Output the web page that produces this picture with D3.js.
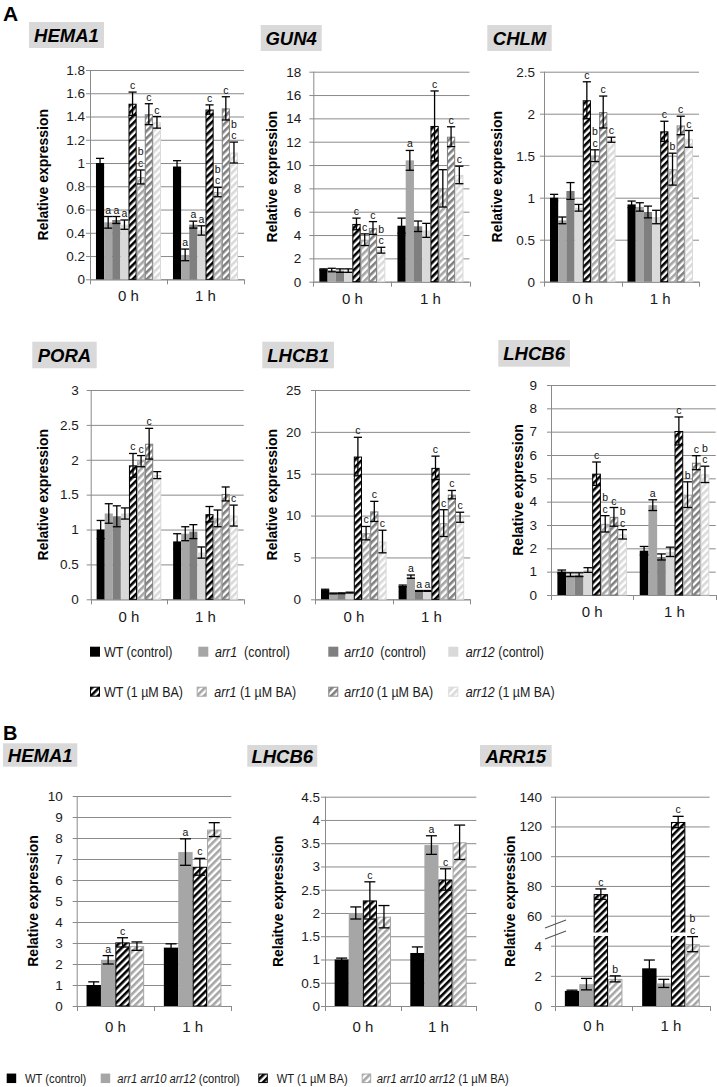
<!DOCTYPE html>
<html><head><meta charset="utf-8">
<script src="https://cdn.jsdelivr.net/npm/d3@7"></script>
<style>
html,body{margin:0;padding:0;background:#fff;}
svg{display:block;font-family:Arial,"Liberation Sans",sans-serif;}
text{white-space:pre;}
</style></head><body>
<svg id="fig" width="717" height="1087"></svg>
<script>
// ---------------- DATA ----------------
const hours = ["0 h", "1 h"];
const genotypesA = ["WT", "arr1", "arr10", "arr12"];
const genotypesB = ["WT", "arr1 arr10 arr12"];
const treatments = ["(control)", "(1 µM BA)"];
const legendGapA = [" ", "  ", "  ", " "];

// Panel A: series order WT, arr1, arr10, arr12 (control) then WT, arr1, arr10, arr12 (1 µM BA)
const HEMA1_A_ticks = [0, 0.2, 0.4, 0.6, 0.8, 1, 1.2, 1.4, 1.6, 1.8];
const HEMA1_A_mean = [[1.00, 0.49, 0.51, 0.47, 1.51, 0.88, 1.42, 1.35], [0.97, 0.21, 0.47, 0.42, 1.46, 0.75, 1.47, 1.09]];
const HEMA1_A_err  = [[0.04, 0.05, 0.03, 0.04, 0.10, 0.06, 0.09, 0.05], [0.05, 0.05, 0.03, 0.04, 0.04, 0.04, 0.10, 0.09]];
const HEMA1_A_sig  = [["", "a", "a", "a", "c", "bc", "c", "c"], ["", "a", "a", "a", "c", "bc", "c", "bc"]];

const GUN4_ticks = [0, 2, 4, 6, 8, 10, 12, 14, 16, 18];
const GUN4_mean = [[1.05, 1.0, 0.95, 0.95, 4.95, 3.6, 4.6, 2.7], [4.8, 10.4, 4.75, 4.4, 13.35, 8.0, 12.43, 9.15]];
const GUN4_err  = [[0.05, 0.15, 0.15, 0.15, 0.5, 0.5, 0.55, 0.25], [0.65, 0.85, 0.45, 0.6, 3.0, 1.6, 0.85, 0.75]];
const GUN4_sig  = [["", "", "", "", "c", "c", "c", "bc"], ["", "a", "", "", "c", "", "c", "c"]];

const CHLM_ticks = [0, 0.5, 1, 1.5, 2, 2.5];
const CHLM_mean = [[1.0, 0.73, 1.08, 0.88, 2.16, 1.5, 2.02, 1.69], [0.92, 0.89, 0.83, 0.77, 1.79, 1.34, 1.86, 1.7]];
const CHLM_err  = [[0.04, 0.04, 0.1, 0.04, 0.22, 0.07, 0.19, 0.03], [0.04, 0.05, 0.07, 0.08, 0.12, 0.19, 0.11, 0.1]];
const CHLM_sig  = [["", "", "", "", "c", "bc", "c", "c"], ["", "", "", "", "c", "b", "c", "c"]];

const PORA_ticks = [0, 0.5, 1, 1.5, 2, 2.5, 3];
const PORA_mean = [[1.0, 1.23, 1.19, 1.23, 1.92, 1.98, 2.23, 1.78], [0.83, 0.94, 0.97, 0.67, 1.22, 1.16, 1.51, 1.2]];
const PORA_err  = [[0.13, 0.14, 0.15, 0.08, 0.17, 0.08, 0.22, 0.05], [0.11, 0.1, 0.1, 0.08, 0.11, 0.12, 0.1, 0.15]];
const PORA_sig  = [["", "", "", "", "c", "c", "c", ""], ["", "", "", "", "", "", "", "c"]];

const LHCB1_ticks = [0, 5, 10, 15, 20, 25];
const LHCB1_mean = [[1.1, 0.7, 0.72, 0.8, 17.05, 7.9, 10.5, 6.9], [1.6, 2.7, 1.0, 1.0, 15.7, 9.1, 12.5, 9.8]];
const LHCB1_err  = [[0.1, 0.05, 0.05, 0.05, 2.3, 0.8, 1.2, 1.35], [0.1, 0.2, 0.05, 0.05, 1.4, 1.6, 0.5, 0.6]];
const LHCB1_sig  = [["", "", "", "", "c", "c", "c", "c"], ["", "a", "a", "a", "c", "c", "c", "c"]];

const LHCB6_A_ticks = [0, 1, 2, 3, 4, 5, 6, 7, 8, 9];
const LHCB6_A_mean = [[1.0, 0.87, 0.87, 1.07, 5.2, 3.05, 3.35, 2.6], [1.9, 3.85, 1.63, 1.85, 7.03, 4.3, 5.67, 5.17]];
const LHCB6_A_err  = [[0.07, 0.08, 0.08, 0.1, 0.5, 0.35, 0.4, 0.2], [0.18, 0.23, 0.13, 0.2, 0.6, 0.55, 0.3, 0.35]];
const LHCB6_A_sig  = [["", "", "", "", "c", "bc", "c", "bc"], ["", "a", "", "", "c", "b", "c", "bc"]];

// Panel B: series order WT (control), arr1 arr10 arr12 (control), WT (1 µM BA), arr1 arr10 arr12 (1 µM BA)
const HEMA1_B_ticks = [0, 1, 2, 3, 4, 5, 6, 7, 8, 9, 10];
const HEMA1_B_mean = [[1.0, 2.2, 3.03, 2.85], [2.78, 7.33, 6.63, 8.4]];
const HEMA1_B_err  = [[0.15, 0.2, 0.22, 0.2], [0.18, 0.63, 0.4, 0.33]];
const HEMA1_B_sig  = [["", "a", "c", ""], ["", "a", "c", ""]];

const LHCB6_B_ticks = [0, 0.5, 1, 1.5, 2, 2.5, 3, 3.5, 4, 4.5];
const LHCB6_B_mean = [[1.0, 2.0, 2.27, 1.92], [1.14, 3.46, 2.72, 3.52]];
const LHCB6_B_err  = [[0.03, 0.13, 0.4, 0.24], [0.13, 0.2, 0.23, 0.37]];
const LHCB6_B_sig  = [["", "", "c", ""], ["", "a", "c", ""]];

const ARR15_ticks_low = [0, 2, 4];
const ARR15_ticks_high = [60, 80, 100, 120, 140];
const ARR15_mean = [[1.0, 1.45, 74.5, 1.8], [2.5, 1.5, 123, 4.1]];
const ARR15_err  = [[0.05, 0.38, 3.5, 0.2], [0.55, 0.27, 3.8, 0.5]];
const ARR15_sig  = [["", "", "c", "b"], ["", "", "c", "bc"]];

// ---------------- DRAWING ----------------
const FONT = "Arial, 'Liberation Sans', sans-serif";
const svg = d3.select("#fig");
svg.append("rect").attr("width", 717).attr("height", 1087).attr("fill", "#fff");
const defs = svg.append("defs");
const palette = ["#000000", "#a6a6a6", "#7f7f7f", "#d9d9d9"];
const GRID = "#8a8a8a";
palette.forEach((c, i) => {
  const p = defs.append("pattern").attr("id", "hatch" + i)
    .attr("patternUnits", "userSpaceOnUse").attr("width", 5).attr("height", 5)
    .attr("patternTransform", "rotate(45)");
  p.append("rect").attr("width", 5).attr("height", 5).attr("fill", "#fff");
  p.append("rect").attr("width", 2.6).attr("height", 5).attr("fill", c);
});
const solid = i => ({fill: palette[i], stroke: "none"});
const hatch = i => ({fill: `url(#hatch${i})`, stroke: palette[i]});
const stylesA = [solid(0), solid(1), solid(2), solid(3), hatch(0), hatch(1), hatch(2), hatch(3)];
const stylesB = [solid(0), solid(1), hatch(0), hatch(1)];

function drawPanel(cfg) {
  const g = svg.append("g");
  const yB = cfg.yB;
  const y = cfg.yFn;
  const xb = d3.scaleBand().domain(hours).range([cfg.x0, cfg.x1]).paddingInner(cfg.pi).paddingOuter(cfg.pi / 2);
  const xs = d3.scaleBand().domain(d3.range(cfg.styles.length)).range([0, xb.bandwidth()]);

  // grid + tick labels
  cfg.axes.forEach(ax => {
    const grid = g.append("g").attr("transform", `translate(${cfg.x0 - 4},0)`)
      .call(d3.axisRight(ax.scale).tickValues(ax.ticks).tickSize(cfg.x1 - cfg.x0 + 4).tickFormat(""));
    grid.select(".domain").remove();
    grid.selectAll("line").attr("stroke", GRID);
    const lab = g.append("g").attr("transform", `translate(${cfg.x0},0)`)
      .call(d3.axisLeft(ax.scale).tickValues(ax.ticks).tickSize(0).tickPadding(cfg.gap).tickFormat(d3.format("~g")));
    lab.select(".domain").remove();
    lab.attr("font-family", FONT).attr("font-size", 13.5);
    lab.selectAll("text").attr("fill", "#1a1a1a");
  });
  // axes lines
  g.append("line").attr("x1", cfg.x0 + 0.5).attr("x2", cfg.x0 + 0.5).attr("y1", cfg.yT).attr("y2", yB + 0.5).attr("stroke", GRID);
  g.append("line").attr("x1", cfg.x0).attr("x2", cfg.x1).attr("y1", yB + 0.5).attr("y2", yB + 0.5).attr("stroke", GRID);
  const bounds = [cfg.x0, (cfg.x0 + cfg.x1) / 2, cfg.x1];
  g.selectAll(null).data(bounds).enter().append("line")
    .attr("x1", d => Math.round(d) + 0.5).attr("x2", d => Math.round(d) + 0.5)
    .attr("y1", yB).attr("y2", yB + 5).attr("stroke", GRID);

  // bars
  hours.forEach((h, hi) => {
    cfg.mean[hi].forEach((m, si) => {
      const st = cfg.styles[si];
      const bx = xb(h) + xs(si);
      const bw = xs.bandwidth();
      const top = y(m);
      if (st.stroke === "none") {
        g.append("rect").attr("x", bx).attr("y", top).attr("width", bw).attr("height", yB - top).attr("fill", st.fill);
      } else {
        g.append("rect").attr("x", bx + 0.5).attr("y", top + 0.5).attr("width", bw - 1).attr("height", yB - top - 0.5)
          .attr("fill", st.fill).attr("stroke", st.stroke).attr("stroke-width", 1);
      }
    });
  });
  // break band
  if (cfg.breakBand) {
    g.append("rect").attr("x", cfg.x0 + 1).attr("y", cfg.breakBand[0]).attr("width", cfg.x1 - cfg.x0 - 1)
      .attr("height", cfg.breakBand[1] - cfg.breakBand[0]).attr("fill", "#fff");
  }
  // error bars + letters
  hours.forEach((h, hi) => {
    cfg.mean[hi].forEach((m, si) => {
      const e = cfg.err[hi][si];
      const cx = xb(h) + xs(si) + xs.bandwidth() / 2;
      const cw = Math.min(xs.bandwidth(), 11);
      const yt = y(m + e), yb2 = y(Math.max(0, m - e));
      g.append("line").attr("x1", cx).attr("x2", cx).attr("y1", yt).attr("y2", yb2).attr("stroke", "#000").attr("stroke-width", 1.3);
      [yt, yb2].forEach(yy => g.append("line").attr("x1", cx - cw / 2).attr("x2", cx + cw / 2).attr("y1", yy).attr("y2", yy)
        .attr("stroke", "#000").attr("stroke-width", 1.3));
      const letters = cfg.sig[hi][si].split("");
      letters.forEach((L, k) => {
        g.append("text").attr("x", cx).attr("y", yt - 3 - (letters.length - 1 - k) * 11.5)
          .attr("text-anchor", "middle").attr("font-size", 10.5).attr("fill", "#111").text(L);
      });
    });
  });
  // category labels
  const cat = g.append("g").attr("transform", `translate(0,${yB})`)
    .call(d3.axisBottom(xb).tickSize(0).tickPadding(cfg.catPad));
  cat.select(".domain").remove();
  cat.attr("font-family", FONT).attr("font-size", 15);
  cat.selectAll("text").attr("fill", "#1a1a1a");
  // axis title
  g.append("text").attr("transform", `translate(${cfg.titleX},${(cfg.yT + yB) / 2}) rotate(-90)`)
    .attr("text-anchor", "middle").attr("dy", "0.35em").attr("font-weight", "bold").attr("font-size", 14)
    .text(cfg.yTitle);
  // gene title box
  const b = cfg.box;
  g.append("rect").attr("x", b[0]).attr("y", b[1]).attr("width", b[2]).attr("height", b[3]).attr("fill", "#d9d9d9");
  g.append("text").attr("x", b[0] + b[2] / 2).attr("y", b[1] + b[3] / 2).attr("dy", "0.36em")
    .attr("text-anchor", "middle").attr("font-weight", "bold").attr("font-style", "italic").attr("font-size", 18.5)
    .text(cfg.gene);
}

function linY(ticks, yB, yT) {
  return d3.scaleLinear().domain([0, ticks[ticks.length - 1]]).range([yB, yT]);
}
function panelA(gene, ticks, mean, err, sig, x0, x1, yT, yB, gap, titleX, box, catPad) {
  const s = linY(ticks, yB, yT);
  drawPanel({gene, mean, err, sig, x0, x1, yT, yB, gap, titleX, box, catPad,
    yFn: s, axes: [{scale: s, ticks}], styles: stylesA, pi: 0.155, yTitle: "Relative expression"});
}
function panelB(gene, ticks, mean, err, sig, x0, x1, yT, yB, gap, titleX, box, yTitle) {
  const s = linY(ticks, yB, yT);
  drawPanel({gene, mean, err, sig, x0, x1, yT, yB, gap, titleX, box, catPad: 15,
    yFn: s, axes: [{scale: s, ticks}], styles: stylesB, pi: 0.255, yTitle});
}

// Panel letters
svg.append("text").attr("x", 3).attr("y", 21).attr("font-weight", "bold").attr("font-size", 21).text("A");
svg.append("text").attr("x", 3).attr("y", 740).attr("font-weight", "bold").attr("font-size", 20).text("B");

panelA("HEMA1", HEMA1_A_ticks, HEMA1_A_mean, HEMA1_A_err, HEMA1_A_sig, 90, 244, 70, 279.3, 5, 43, [29, 22, 75, 26], 11.5);
panelA("GUN4", GUN4_ticks, GUN4_mean, GUN4_err, GUN4_sig, 313.3, 469.5, 71.7, 281.7, 12, 272, [260.7, 25, 61, 26], 11.5);
panelA("CHLM", CHLM_ticks, CHLM_mean, CHLM_err, CHLM_sig, 544, 699, 71.7, 281.7, 9, 497, [487.3, 25, 64.4, 26], 11.5);
panelA("PORA", PORA_ticks, PORA_mean, PORA_err, PORA_sig, 90.7, 243.7, 390, 599.3, 12, 43.3, [32.3, 341.7, 64.4, 26.6], 12);
panelA("LHCB1", LHCB1_ticks, LHCB1_mean, LHCB1_err, LHCB1_sig, 315, 470.2, 390, 599.3, 14, 272.3, [262.3, 341.7, 71.7, 26.6], 12);
panelA("LHCB6", LHCB6_A_ticks, LHCB6_A_mean, LHCB6_A_err, LHCB6_A_sig, 551, 715.7, 385, 595, 14, 518.3, [498.3, 340, 71.7, 26.7], 11.4);

panelB("HEMA1", HEMA1_B_ticks, HEMA1_B_mean, HEMA1_B_err, HEMA1_B_sig, 76.7, 231.3, 796, 1006, 14, 33.3, [3, 743.3, 74.3, 23.4], "Relative expression");
panelB("LHCB6", LHCB6_B_ticks, LHCB6_B_mean, LHCB6_B_err, LHCB6_B_sig, 325, 476.3, 796.7, 1006, 5, 278.3, [247.3, 745, 70, 21.7], "Relaitve expression");

// ARR15 with broken axis
{
  const yLow = d3.scaleLinear().domain([0, 4]).range([1006, 945.7]);
  const yHigh = d3.scaleLinear().domain([60, 140]).range([915.7, 796.7]);
  const yFn = v => (v <= 4.8 ? yLow(v) : yHigh(Math.max(v, 49)));
  drawPanel({gene: "ARR15", mean: ARR15_mean, err: ARR15_err, sig: ARR15_sig, x0: 555, x1: 709.6, yT: 796.7, yB: 1006,
    gap: 13, titleX: 510, box: [480, 745, 71.7, 21.7], catPad: 14,
    yFn, axes: [{scale: yLow, ticks: ARR15_ticks_low}, {scale: yHigh, ticks: ARR15_ticks_high}],
    styles: stylesB, pi: 0.255, yTitle: "Relative expression", breakBand: [932.5, 936]});
  // break marks
  svg.append("line").attr("x1", 545).attr("y1", 928).attr("x2", 566).attr("y2", 920).attr("stroke", "#555").attr("stroke-width", 1.2);
  svg.append("line").attr("x1", 545).attr("y1", 939).attr("x2", 566).attr("y2", 931).attr("stroke", "#555").attr("stroke-width", 1.2);
}

// ---------------- LEGENDS ----------------
function legendItem(sx, tx, cy, size, style, parts, fs, scaleX) {
  if (style.stroke === "none") {
    svg.append("rect").attr("x", sx).attr("y", cy - size / 2).attr("width", size).attr("height", size).attr("fill", style.fill);
  } else {
    svg.append("rect").attr("x", sx + 0.5).attr("y", cy - size / 2 + 0.5).attr("width", size - 1).attr("height", size - 1)
      .attr("fill", style.fill).attr("stroke", style.stroke);
  }
  const t = svg.append("g").attr("transform", `translate(${tx},${cy}) scale(${scaleX},1)`)
    .append("text").attr("x", 0).attr("y", 0).attr("dy", "0.35em").attr("font-size", fs).attr("fill", "#1a1a1a");
  parts.forEach(p => t.append("tspan").attr("font-style", p.i ? "italic" : "normal").text(p.t));
}
const legASw = [[90, 198.3, 328.3, 448.3], [90, 196.7, 328.3, 448.3]];
const legATx = [[104, 215, 344.3, 465.7], [104, 214.3, 344.3, 465.7]];
const legAY = [651.7, 691.7];
treatments.forEach((tr, ti) => {
  genotypesA.forEach((gn, gi) => {
    const parts = gi === 0 ? [{t: "WT " + tr}] : [{t: gn, i: true}, {t: (ti === 0 ? legendGapA[gi] : " ") + tr}];
    legendItem(legASw[ti][gi], legATx[ti][gi], legAY[ti], 10, stylesA[ti * 4 + gi], parts, 14, 0.89);
  });
});
const legBSw = [6.7, 100.7, 258.3, 361.7];
const legBTx = [25, 117.3, 276.7, 376.7];
treatments.forEach((tr, ti) => {
  genotypesB.forEach((gn, gi) => {
    const idx = ti * 2 + gi;
    const parts = gi === 0 ? [{t: "WT " + tr}] : [{t: gn, i: true}, {t: " " + tr}];
    legendItem(legBSw[idx], legBTx[idx], 1078.3, 9.5, stylesB[idx], parts, 13.5, 0.83);
  });
});
</script>
</body></html>
